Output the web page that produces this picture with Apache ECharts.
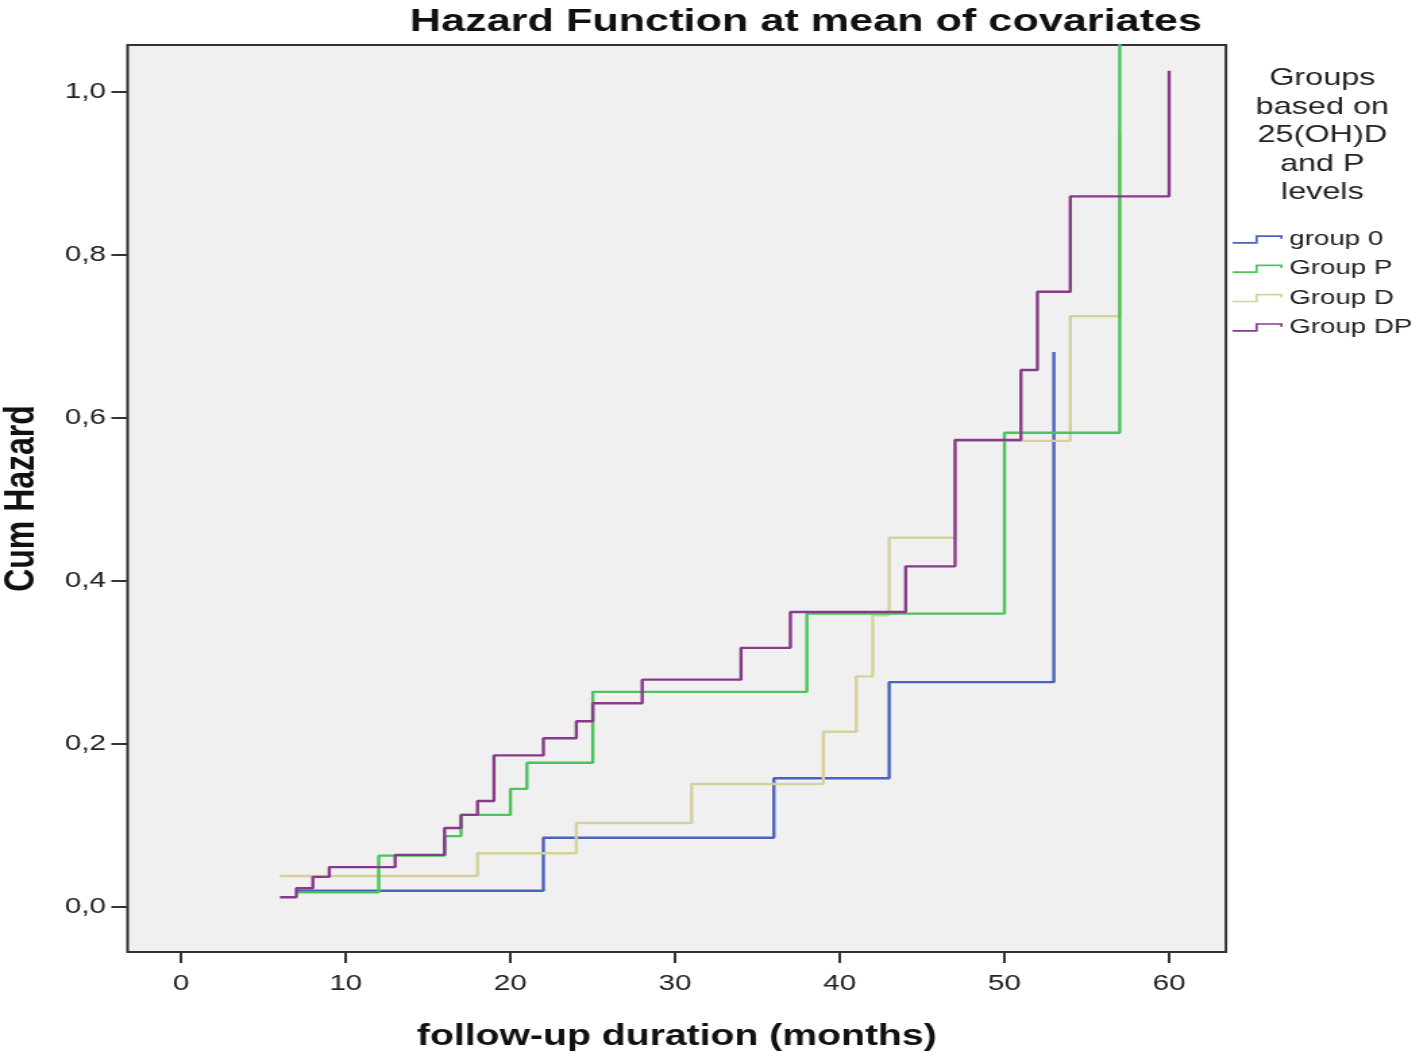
<!DOCTYPE html>
<html>
<head>
<meta charset="utf-8">
<script src="https://cdn.jsdelivr.net/npm/echarts@6/dist/echarts.min.js"></script>
<style>
  html, body { margin: 0; padding: 0; background: #ffffff; overflow: hidden; }
  #chart { width: 1049px; height: 1057px; transform: scaleX(1.35); transform-origin: 0 0; }
</style>
</head>
<body>
<div id="chart"></div>
<script>
// ---- data (time in months, cumulative hazard) ----
const seriesNames = ['group 0', 'Group P', 'Group D', 'Group DP'];

const group0 = [[7, 0.020], [22, 0.085], [36, 0.158], [43, 0.276], [53, 0.681]];
const groupP = [[7, 0.018], [12, 0.063], [16, 0.087], [17, 0.113], [20, 0.145], [21, 0.177],
                [25, 0.264], [38, 0.360], [50, 0.582], [57, 1.200]];
const groupD = [[6, 0.038], [18, 0.066], [24, 0.103], [31, 0.151], [39, 0.215], [41, 0.283],
                [42, 0.358], [43, 0.453], [47, 0.572], [54, 0.725], [57, 0.950]];
const groupDP = [[6, 0.012], [7, 0.023], [8, 0.037], [9, 0.049], [13, 0.064], [16, 0.097],
                 [17, 0.113], [18, 0.130], [19, 0.186], [22, 0.207], [24, 0.228], [25, 0.250],
                 [28, 0.279], [34, 0.318], [37, 0.362], [44, 0.418], [47, 0.573], [51, 0.659],
                 [52, 0.755], [54, 0.872], [60, 1.026]];

const xTickValues = [0, 10, 20, 30, 40, 50, 60];
const xTickLabels = ['0', '10', '20', '30', '40', '50', '60'];
const yTickValues = [0, 0.2, 0.4, 0.6, 0.8, 1.0];
const yTickLabels = ['0,0', '0,2', '0,4', '0,6', '0,8', '1,0'];

const colors = ['#4a62bd', '#4cc45c', '#d6d19c', '#883a8a'];
const seriesData = [group0, groupP, groupD, groupDP];

const FONT = '"Liberation Sans", Arial, sans-serif';
const stepIcon = 'path://M0,9.6 L23.8,9.6 L23.8,0 L52,0 L52,5 L49.6,5 L49.6,2.4 L26.2,2.4 L26.2,12 L0,12 Z';

function nearestLabel(v, vals, labels) {
  let best = 0;
  for (let i = 1; i < vals.length; i++) {
    if (Math.abs(vals[i] - v) < Math.abs(vals[best] - v)) best = i;
  }
  return labels[best];
}

const chart = echarts.init(document.getElementById('chart'));
chart.setOption({
  animation: false,
  backgroundColor: '#ffffff',
  title: [
    {
      text: 'Hazard Function at mean of covariates',
      left: 592, top: 1, textAlign: 'center',
      textStyle: { fontFamily: FONT, fontSize: 32, fontWeight: 'bold', color: '#111' }
    },
    {
      text: 'Groups\nbased on\n25(OH)D\nand P\nlevels',
      left: 974.5, top: 59.5, textAlign: 'center',
      textStyle: { fontFamily: FONT, fontSize: 24, fontWeight: 'normal', color: '#222', lineHeight: 28.5 }
    }
  ],
  legend: {
    orient: 'vertical',
    left: 913, top: 229, padding: 0,
    itemWidth: 37, itemHeight: 12, itemGap: 8.3,
    icon: stepIcon,
    data: seriesNames,
    textStyle: { fontFamily: FONT, fontSize: 20.5, color: '#222' }
  },
  grid: {
    left: 94.5, right: 140.9, top: 45, bottom: 105,
    outerBoundsMode: 'none', containLabel: false,
    show: true, backgroundColor: '#f0f0f0', borderColor: '#333', borderWidth: 2
  },
  xAxis: {
    type: 'value', min: -3.25, max: 63.45,
    name: 'follow-up duration (months)', nameLocation: 'middle', nameGap: 70,
    nameTextStyle: { fontFamily: FONT, fontSize: 29, fontWeight: 'bold', color: '#111' },
    axisLine: { show: false, onZero: false },
    splitLine: { show: false },
    axisTick: { show: true, inside: false, length: 11, customValues: xTickValues,
                lineStyle: { color: '#333', width: 2 } },
    axisLabel: { customValues: xTickValues, margin: 21, fontFamily: FONT, fontSize: 22, color: '#222',
                 formatter: v => nearestLabel(v, xTickValues, xTickLabels) }
  },
  yAxis: {
    type: 'value', min: -0.0552, max: 1.0577,
    name: 'Cum Hazard', nameLocation: 'middle', nameGap: 62, nameRotate: 90,
    nameTextStyle: { fontFamily: FONT, fontSize: 32, fontWeight: 'bold', color: '#111' },
    axisLine: { show: false, onZero: false },
    splitLine: { show: false },
    axisTick: { show: true, inside: false, length: 12, customValues: yTickValues,
                lineStyle: { color: '#333', width: 2 } },
    axisLabel: { customValues: yTickValues, margin: 16, fontFamily: FONT, fontSize: 22, color: '#222',
                 formatter: v => nearestLabel(v, yTickValues, yTickLabels) }
  },
  series: seriesNames.map((name, i) => ({
    name: name,
    type: 'line',
    step: 'end',
    data: seriesData[i],
    showSymbol: false,
    clip: true,
    color: colors[i],
    lineStyle: { color: colors[i], width: 2.4 },
    z: 2 + (i === 1 ? 3 : i)
  }))
});
</script>
</body>
</html>
